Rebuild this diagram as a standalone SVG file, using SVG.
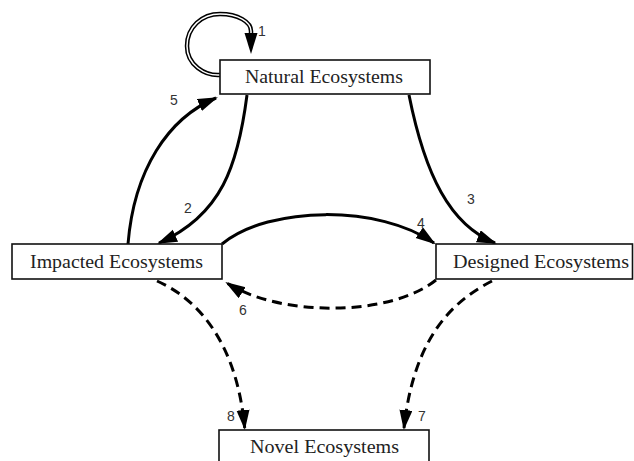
<svg xmlns="http://www.w3.org/2000/svg" width="634" height="461" viewBox="0 0 634 461">
<defs>
<style>
.box{fill:#fff;stroke:#111;stroke-width:1.6}
.lbl{font-family:"Liberation Serif","Times New Roman",serif;font-size:18px;fill:#222;text-anchor:middle}
.num{font-family:"Liberation Sans",Arial,sans-serif;font-size:14px;fill:#333;text-anchor:middle}
.c{fill:none;stroke:#000;stroke-width:3}
.d{fill:none;stroke:#000;stroke-width:3;stroke-dasharray:10 6}
</style>
<marker id="ah" markerUnits="userSpaceOnUse" markerWidth="22" markerHeight="14" refX="18" refY="6.5" orient="auto">
<path d="M0,0 L20,6.5 L0,13 z" fill="#000"/>
</marker>
</defs>
<rect width="634" height="461" fill="#fff"/>
<g id="connectors">
<path d="M220,75 C205,76 187,65 187,46 C187,27 202,14 220,14 C238,14 251,22 251,31 L251,36" fill="none" stroke="#000" stroke-width="4.5"/>
<path d="M220,75 C205,76 187,65 187,46 C187,27 202,14 220,14 C238,14 251,22 251,31 L251,34" fill="none" stroke="#fff" stroke-width="1.5"/>
<polygon points="244.5,33 257.5,33 251,54" fill="#000"/>
<path class="c" d="M128,244 C134,170 168,118 216,98" marker-end="url(#ah)"/>
<path class="c" d="M247,95 C238,165 222,215 159,243" marker-end="url(#ah)"/>
<path class="c" d="M409,95 C425,175 450,225 495,243" marker-end="url(#ah)"/>
<path class="c" d="M222,244 C270,205 380,205 434,243" marker-end="url(#ah)"/>
<path class="d" d="M436,280 C390,317 280,317 227,283" marker-end="url(#ah)"/>
<path class="d" d="M157,281 C200,300 237,345 244.7,428" marker-end="url(#ah)"/>
<path class="d" d="M492,281 C455,300 414,335 404,428" marker-end="url(#ah)"/>
<text class="num" x="262" y="36">1</text>
<text class="num" x="188" y="213">2</text>
<text class="num" x="471" y="204">3</text>
<text class="num" x="421" y="228">4</text>
<text class="num" x="174" y="105">5</text>
<text class="num" x="243" y="315">6</text>
<text class="num" x="422" y="421">7</text>
<text class="num" x="231" y="421">8</text>
</g>
<g id="natural">
<rect class="box" x="220" y="60" width="210" height="34"/>
<text class="lbl" x="324" y="83" textLength="158" lengthAdjust="spacingAndGlyphs">Natural Ecosystems</text>
</g>
<g id="impacted">
<rect class="box" x="12" y="244" width="210" height="35"/>
<text class="lbl" x="116.5" y="268" textLength="173" lengthAdjust="spacingAndGlyphs">Impacted Ecosystems</text>
</g>
<g id="designed">
<rect class="box" x="436" y="244" width="196.5" height="35"/>
<text class="lbl" x="541" y="268" textLength="176" lengthAdjust="spacingAndGlyphs">Designed Ecosystems</text>
</g>
<g id="novel">
<rect class="box" x="219" y="430" width="210" height="40"/>
<text class="lbl" x="324.5" y="453" textLength="149" lengthAdjust="spacingAndGlyphs">Novel Ecosystems</text>
</g>
</svg>
